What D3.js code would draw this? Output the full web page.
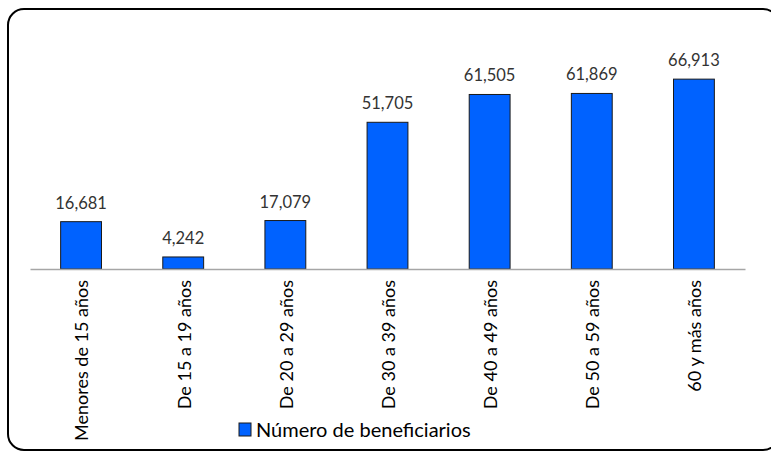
<!DOCTYPE html>
<html>
<head>
<meta charset="utf-8">
<script src="https://cdn.jsdelivr.net/npm/d3@7"></script>
<style>
  body { margin: 0; background: #fff; }
  svg { display: block; }
</style>
</head>
<body>
<svg width="771" height="452"></svg>
<script>
// data
const categories = ['Menores de 15 años', 'De 15 a 19 años', 'De 20 a 29 años', 'De 30 a 39 años',
                    'De 40 a 49 años', 'De 50 a 59 años', '60 y más años'];
const beneficiarios = [16681, 4242, 17079, 51705, 61505, 61869, 66913];
const seriesName = 'Número de beneficiarios';

const svg = d3.select('svg');
const barColor = '#0062ff';
const fontFam = 'Lato, "Open Sans", sans-serif';

// chart frame with rounded corners (right and bottom run off the page)
svg.append('rect')
   .attr('x', 8)
   .attr('y', 9)
   .attr('width', 771)
   .attr('height', 441)
   .attr('rx', 16)
   .attr('ry', 16)
   .style('fill', 'none')
   .style('stroke', '#000')
   .style('stroke-width', '2px');

const baseY = 269;
const x = d3.scaleBand()
            .domain(categories)
            .range([30, 745])
            .paddingInner(0.6)
            .paddingOuter(0.3);

const y = d3.scaleLinear()
            .domain([0, 80000])
            .range([baseY, 42]);

const data = categories.map((c, i) => ({cat: c, val: beneficiarios[i]}));

svg.selectAll('rect.bar')
   .data(data)
   .enter()
   .append('rect')
   .classed('bar', true)
   .attr('x', d => x(d.cat))
   .attr('y', d => y(d.val))
   .attr('width', x.bandwidth())
   .attr('height', d => baseY - y(d.val))
   .style('fill', barColor)
   .style('stroke', '#1a1a1a')
   .style('stroke-width', '1px');

// value labels
svg.selectAll('text.valLab')
   .data(data)
   .enter()
   .append('text')
   .classed('valLab', true)
   .text(d => d3.format(',')(d.val))
   .attr('x', d => x(d.cat) + x.bandwidth() / 2)
   .attr('y', d => y(d.val) - 13)
   .style('text-anchor', 'middle')
   .style('font-family', fontFam)
   .style('font-size', '16.5px')
   .style('fill', '#333');

// category axis
const xAxis = svg.append('g')
                 .attr('transform', `translate(0, ${baseY})`)
                 .call(d3.axisBottom(x).tickSize(0).tickPadding(0));
xAxis.select('.domain').style('stroke', '#a6a6a6').style('stroke-width', '1.5px');
xAxis.selectAll('text')
     .attr('transform', 'translate(1, 11) rotate(-90)')
     .attr('dy', '0.35em')
     .attr('x', 0)
     .attr('y', 0)
     .style('text-anchor', 'end')
     .style('font-family', fontFam)
     .style('font-size', '18px')
     .style('fill', '#000');

// legend
const leg = svg.append('g').attr('transform', 'translate(239, 423)');
leg.append('rect')
   .attr('width', 12)
   .attr('height', 13)
   .style('fill', barColor)
   .style('stroke', '#1a1a1a')
   .style('stroke-width', '1px');
leg.append('text')
   .text(seriesName)
   .attr('x', 17)
   .attr('y', 14)
   .style('font-family', fontFam)
   .style('font-size', '20px')
   .style('fill', '#000');
</script>
</body>
</html>
